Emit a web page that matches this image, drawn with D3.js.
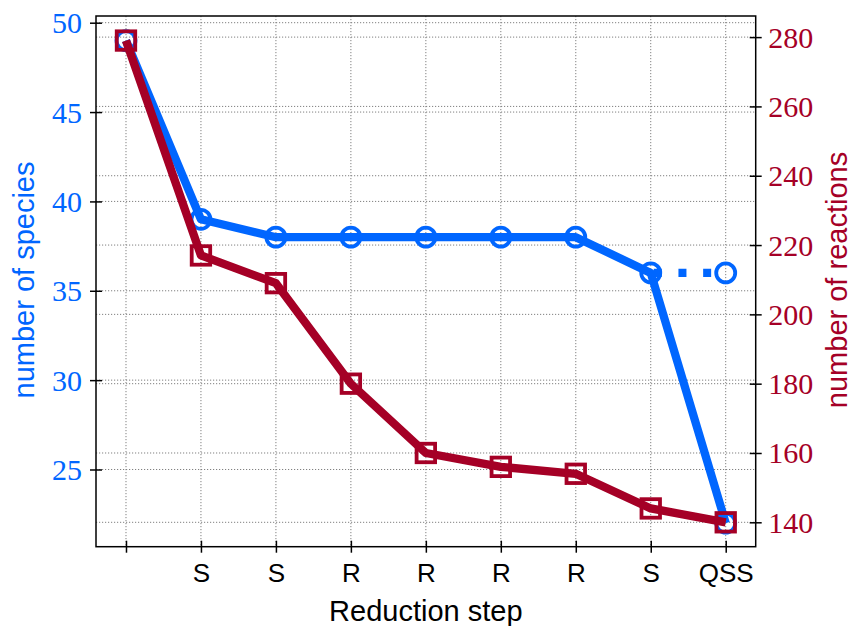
<!DOCTYPE html>
<html>
<head>
<meta charset="utf-8">
<script src="https://cdn.jsdelivr.net/npm/d3@7"></script>
<style>
  body { margin: 0; background: #fff; }
  svg { display: block; }
</style>
</head>
<body>
<div class="chart"></div>
<script>
// data
var steps = ["", "S", "S", "R", "R", "R", "R", "S", "QSS"];
var species = [49, 39, 38, 38, 38, 38, 38, 36, 22];
var reactions = [279, 217, 209, 180, 160, 156, 154, 144, 140];
// dotted branch: species kept at the last step (index 7 -> 8)
var speciesQssIdx = [7, 8];
var speciesQss = [36, 36];
var speciesTicks = [25, 30, 35, 40, 45, 50];
var reactionTicks = [140, 160, 180, 200, 220, 240, 260, 280];

var blue = "#0066ff";
var red = "#a50026";

var svgWidth = 853;
var svgHeight = 626;
var margin = { top: 16, bottom: 79.3, left: 96, right: 97.3 };
var width = svgWidth - margin.left - margin.right;
var height = svgHeight - margin.top - margin.bottom;

var svg = d3.select(".chart")
  .append("svg")
  .attr("width", svgWidth)
  .attr("height", svgHeight);

var chartGroup = svg.append("g")
  .attr("transform", `translate(${margin.left}, ${margin.top})`);

// scales
var xScale = d3.scaleLinear().domain([-0.4, 8.4]).range([0, width]);
var yLeft = d3.scaleLinear().domain([20.68, 50.375]).range([height, 0]);
var yRight = d3.scaleLinear().domain([132.96, 286.09]).range([height, 0]);

// grid
var grid = chartGroup.append("g")
  .attr("stroke", "#808080")
  .attr("stroke-width", 1)
  .attr("stroke-dasharray", "1.2,1.8");

grid.selectAll(".vgrid")
  .data(d3.range(steps.length))
  .enter()
  .append("line")
  .attr("x1", d => xScale(d))
  .attr("x2", d => xScale(d))
  .attr("y1", 0)
  .attr("y2", height);

grid.selectAll(".lgrid")
  .data(speciesTicks)
  .enter()
  .append("line")
  .attr("x1", 0)
  .attr("x2", width)
  .attr("y1", d => yLeft(d))
  .attr("y2", d => yLeft(d));

grid.selectAll(".rgrid")
  .data(reactionTicks)
  .enter()
  .append("line")
  .attr("x1", 0)
  .attr("x2", width)
  .attr("y1", d => yRight(d))
  .attr("y2", d => yRight(d));

// species line
var speciesLine = d3.line()
  .x((d, i) => xScale(i))
  .y(d => yLeft(d));

chartGroup.append("path")
  .datum(species)
  .attr("d", speciesLine)
  .attr("fill", "none")
  .attr("stroke", blue)
  .attr("stroke-width", 8.3)
  .attr("stroke-linejoin", "round");

chartGroup.selectAll(".spc")
  .data(species)
  .enter()
  .append("circle")
  .attr("cx", (d, i) => xScale(i))
  .attr("cy", d => yLeft(d))
  .attr("r", 9.5)
  .attr("fill", "none")
  .attr("stroke", blue)
  .attr("stroke-width", 3.8);

// dotted QSS branch
var qssLine = d3.line()
  .x((d, i) => xScale(speciesQssIdx[i]))
  .y(d => yLeft(d));

chartGroup.append("path")
  .datum(speciesQss)
  .attr("d", qssLine)
  .attr("fill", "none")
  .attr("stroke", blue)
  .attr("stroke-width", 8.3)
  .attr("stroke-dasharray", "8,16.7")
  .attr("stroke-dashoffset", -3);

chartGroup.append("circle")
  .attr("cx", xScale(speciesQssIdx[1]))
  .attr("cy", yLeft(speciesQss[1]))
  .attr("r", 9.5)
  .attr("fill", "none")
  .attr("stroke", blue)
  .attr("stroke-width", 3.8);

// reactions line
var reactionLine = d3.line()
  .x((d, i) => xScale(i))
  .y(d => yRight(d));

chartGroup.append("path")
  .datum(reactions)
  .attr("d", reactionLine)
  .attr("fill", "none")
  .attr("stroke", red)
  .attr("stroke-width", 8.3)
  .attr("stroke-linejoin", "round");

chartGroup.selectAll(".rsq")
  .data(reactions)
  .enter()
  .append("rect")
  .attr("x", (d, i) => xScale(i) - 9.25)
  .attr("y", d => yRight(d) - 9.25)
  .attr("width", 18.5)
  .attr("height", 18.5)
  .attr("fill", "none")
  .attr("stroke", red)
  .attr("stroke-width", 3.8);

// axes
var xAxis = d3.axisBottom(xScale)
  .tickValues(d3.range(steps.length))
  .tickFormat(i => steps[i])
  .tickSize(6)
  .tickPadding(12);
var leftAxis = d3.axisLeft(yLeft).tickValues(speciesTicks).tickSize(6).tickPadding(10);
var rightAxis = d3.axisRight(yRight).tickValues(reactionTicks).tickSize(6).tickPadding(11);

var gx = chartGroup.append("g")
  .attr("transform", `translate(0, ${height})`)
  .call(xAxis);
gx.selectAll(".tick line").attr("y1", -6).attr("y2", 6).attr("stroke-width", 1.5);
gx.selectAll(".tick text")
  .attr("font-family", "Liberation Sans, Arial, sans-serif")
  .attr("font-size", 26)
  .attr("fill", "#000")
  .attr("dy", 0)
  .attr("y", 35);

var gl = chartGroup.append("g").call(leftAxis);
gl.selectAll(".tick line").attr("x1", 6).attr("x2", -6).attr("stroke-width", 1.5);
gl.selectAll(".tick text")
  .attr("font-family", "Liberation Serif, Times New Roman, serif")
  .attr("font-size", 30)
  .attr("fill", blue)
  .attr("dy", 0)
  .attr("y", 10)
  .attr("x", -14);

var gr = chartGroup.append("g")
  .attr("transform", `translate(${width}, 0)`)
  .call(rightAxis);
gr.selectAll(".tick line").attr("x1", -6).attr("x2", 6).attr("stroke-width", 1.5);
gr.selectAll(".tick text")
  .attr("font-family", "Liberation Serif, Times New Roman, serif")
  .attr("font-size", 30)
  .attr("fill", red)
  .attr("dy", 0)
  .attr("y", 10)
  .attr("x", 12.5);

[gx, gl, gr].forEach(g => g.select(".domain").remove());

// frame
chartGroup.append("rect")
  .attr("width", width)
  .attr("height", height)
  .attr("fill", "none")
  .attr("stroke", "#000")
  .attr("stroke-width", 1.5);

// axis labels
svg.append("text")
  .attr("x", margin.left + width / 2)
  .attr("y", 621)
  .attr("text-anchor", "middle")
  .attr("font-family", "Liberation Sans, Arial, sans-serif")
  .attr("font-size", 29)
  .text("Reduction step");

svg.append("text")
  .attr("transform", "translate(33.5, 280) rotate(-90)")
  .attr("text-anchor", "middle")
  .attr("font-family", "Liberation Sans, Arial, sans-serif")
  .attr("font-size", 29)
  .attr("fill", blue)
  .text("number of species");

svg.append("text")
  .attr("transform", "translate(846.5, 280) rotate(-90)")
  .attr("text-anchor", "middle")
  .attr("font-family", "Liberation Sans, Arial, sans-serif")
  .attr("font-size", 29)
  .attr("fill", red)
  .text("number of reactions");
</script>
</body>
</html>
